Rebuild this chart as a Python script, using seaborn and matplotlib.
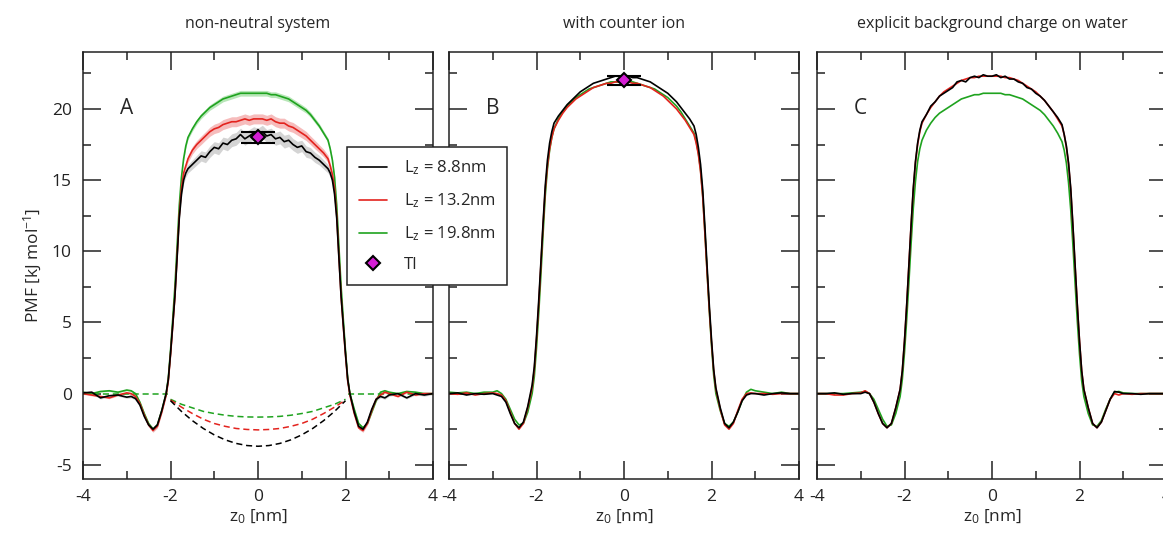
import numpy as np
import seaborn as sns
import matplotlib.pyplot as plt
from matplotlib.lines import Line2D
from matplotlib.ticker import MultipleLocator

sns.set_style("ticks")
plt.rcParams['font.family'] = ['Open Sans', 'DejaVu Sans']
plt.rcParams['mathtext.fontset'] = 'custom'
plt.rcParams['mathtext.rm'] = 'Open Sans'
plt.rcParams['mathtext.it'] = 'Open Sans:italic'
plt.rcParams['axes.unicode_minus'] = False

# z grid (nm)
z = [-4.0, -3.8, -3.6, -3.4, -3.2, -3.0,
     -2.9, -2.8, -2.7, -2.6, -2.5, -2.4, -2.3, -2.2, -2.1,
     -2.05, -2.0, -1.95, -1.9, -1.85, -1.8, -1.75, -1.7, -1.65, -1.6,
     -1.5, -1.4, -1.3, -1.2, -1.1, -1.0, -0.9, -0.8, -0.7, -0.6, -0.5, -0.4, -0.3, -0.2, -0.1,
     0.0,
     0.1, 0.2, 0.3, 0.4, 0.5, 0.6, 0.7, 0.8, 0.9, 1.0, 1.1, 1.2, 1.3, 1.4, 1.5,
     1.6, 1.65, 1.7, 1.75, 1.8, 1.85, 1.9, 1.95, 2.0, 2.05,
     2.1, 2.2, 2.3, 2.4, 2.5, 2.6, 2.7, 2.8, 2.9,
     3.0, 3.2, 3.4, 3.6, 3.8, 4.0]

# panel A: non-neutral system
a_88 = [0.05, 0.1, -0.3, -0.15, -0.1, -0.25,
        -0.2, -0.35, -0.8, -1.6, -2.2, -2.5, -2.2, -1.2, 0.0,
        1.0, 2.8, 4.8, 6.8, 9.5, 12.3, 14.0, 15.0, 15.5, 15.8,
        16.1, 16.4, 16.7, 16.6, 17.0, 17.3, 17.2, 17.6, 17.5, 17.8, 17.9, 18.2, 17.9, 18.1, 18.3,
        18.2,
        18.4, 18.1, 18.2, 17.9, 18.0, 17.7, 17.8, 17.5, 17.3, 17.4, 17.0, 16.9, 16.6, 16.4, 16.1,
        15.8, 15.5, 15.0, 14.0, 12.3, 9.5, 6.8, 4.8, 2.8, 1.0,
        0.0, -1.3, -2.3, -2.5, -2.0, -1.1, -0.4, -0.2, -0.3,
        -0.1, 0.0, -0.3, 0.0, -0.1, 0.0]
a_132 = [0.0, -0.1, -0.2, -0.3, -0.1, 0.05,
         0.0, -0.2, -0.7, -1.5, -2.2, -2.6, -2.3, -1.3, -0.1,
         0.9, 2.7, 4.7, 6.8, 9.6, 12.5, 14.4, 15.5, 16.0, 16.5,
         17.1, 17.5, 17.8, 18.1, 18.4, 18.6, 18.7, 18.9, 19.0, 19.1, 19.1, 19.2, 19.3, 19.2, 19.3,
         19.3,
         19.3, 19.2, 19.3, 19.1, 19.0, 19.0, 18.8, 18.7, 18.5, 18.3, 18.1, 17.8, 17.5, 17.2, 16.9,
         16.5, 16.0, 15.4, 14.4, 12.5, 9.6, 6.8, 4.7, 2.7, 0.9,
         -0.1, -1.4, -2.4, -2.6, -2.1, -1.2, -0.4, -0.1, 0.1,
         0.0, -0.2, 0.1, -0.1, 0.0, 0.0]
a_198 = [0.1, 0.0, 0.15, 0.2, 0.1, 0.25,
         0.2, 0.0, -0.6, -1.4, -2.1, -2.5, -2.2, -1.2, 0.0,
         1.1, 3.0, 5.2, 7.5, 10.3, 13.2, 15.2, 16.5, 17.4, 18.0,
         18.6, 19.1, 19.5, 19.8, 20.1, 20.3, 20.5, 20.7, 20.8, 20.9, 21.0, 21.1, 21.1, 21.1, 21.1,
         21.1,
         21.1, 21.1, 21.0, 21.0, 20.9, 20.8, 20.7, 20.5, 20.3, 20.1, 19.9, 19.6, 19.2, 18.8, 18.3,
         17.8, 17.2, 16.4, 15.2, 13.2, 10.3, 7.5, 5.2, 3.0, 1.1,
         0.0, -1.1, -2.1, -2.4, -2.1, -1.3, -0.5, 0.1, 0.2,
         0.1, 0.0, 0.15, 0.1, 0.0, 0.0]

# error band half widths (panel A)
a_88_err = [0.08, 0.08, 0.08, 0.08, 0.08, 0.08,
            0.1, 0.1, 0.12, 0.15, 0.15, 0.15, 0.15, 0.15, 0.15,
            0.2, 0.2, 0.2, 0.2, 0.2, 0.2, 0.22, 0.25, 0.28, 0.3,
            0.32, 0.34, 0.36, 0.38, 0.4, 0.4, 0.42, 0.42, 0.44, 0.45, 0.45, 0.45, 0.45, 0.45, 0.45,
            0.45,
            0.45, 0.45, 0.45, 0.45, 0.45, 0.45, 0.44, 0.42, 0.42, 0.4, 0.4, 0.38, 0.36, 0.34, 0.32,
            0.3, 0.28, 0.25, 0.22, 0.2, 0.2, 0.2, 0.2, 0.2, 0.2,
            0.15, 0.15, 0.15, 0.15, 0.15, 0.15, 0.12, 0.1, 0.1,
            0.08, 0.08, 0.08, 0.08, 0.08, 0.08]
a_132_err = [0.06, 0.06, 0.06, 0.06, 0.06, 0.06,
             0.08, 0.08, 0.1, 0.12, 0.12, 0.12, 0.12, 0.12, 0.12,
             0.15, 0.15, 0.15, 0.15, 0.15, 0.15, 0.18, 0.2, 0.22, 0.25,
             0.27, 0.28, 0.3, 0.3, 0.32, 0.33, 0.34, 0.35, 0.35, 0.35, 0.35, 0.35, 0.35, 0.35, 0.35,
             0.35,
             0.35, 0.35, 0.35, 0.35, 0.35, 0.35, 0.35, 0.35, 0.34, 0.33, 0.32, 0.3, 0.3, 0.28, 0.27,
             0.25, 0.22, 0.2, 0.18, 0.15, 0.15, 0.15, 0.15, 0.15, 0.15,
             0.12, 0.12, 0.12, 0.12, 0.12, 0.12, 0.1, 0.08, 0.08,
             0.06, 0.06, 0.06, 0.06, 0.06, 0.06]
a_198_err = [0.05, 0.05, 0.05, 0.05, 0.05, 0.05,
             0.06, 0.06, 0.07, 0.08, 0.08, 0.08, 0.08, 0.08, 0.08,
             0.1, 0.1, 0.1, 0.1, 0.1, 0.1, 0.12, 0.13, 0.14, 0.15,
             0.16, 0.17, 0.18, 0.18, 0.19, 0.2, 0.2, 0.2, 0.2, 0.2, 0.2, 0.2, 0.2, 0.2, 0.2,
             0.2,
             0.2, 0.2, 0.2, 0.2, 0.2, 0.2, 0.2, 0.2, 0.2, 0.2, 0.19, 0.18, 0.18, 0.17, 0.16,
             0.15, 0.14, 0.13, 0.12, 0.1, 0.1, 0.1, 0.1, 0.1, 0.1,
             0.08, 0.08, 0.08, 0.08, 0.08, 0.08, 0.07, 0.06, 0.06,
             0.05, 0.05, 0.05, 0.05, 0.05, 0.05]

# correction terms (dashed) in panel A
dash_z = [-2.0, -1.75, -1.5, -1.25, -1.0, -0.75, -0.5, -0.25, 0.0,
          0.25, 0.5, 0.75, 1.0, 1.25, 1.5, 1.75, 2.0]
dash_88 = [-0.5, -1.25, -1.9, -2.45, -2.9, -3.25, -3.5, -3.65, -3.7,
           -3.65, -3.5, -3.25, -2.9, -2.45, -1.9, -1.25, -0.5]
dash_132 = [-0.45, -0.95, -1.4, -1.8, -2.1, -2.3, -2.45, -2.52, -2.55,
            -2.52, -2.45, -2.3, -2.1, -1.8, -1.4, -0.95, -0.45]
dash_198 = [-0.4, -0.75, -1.0, -1.25, -1.4, -1.52, -1.6, -1.64, -1.65,
            -1.64, -1.6, -1.52, -1.4, -1.25, -1.0, -0.75, -0.4]
outer_left_z = [-4.0, -2.05]
outer_right_z = [2.05, 4.0]
outer_y = [0.0, 0.0]

# panel B: with counter ion
b_88 = [0.0, 0.05, -0.1, 0.0, -0.05, 0.0,
        -0.1, -0.2, -0.6, -1.4, -2.1, -2.4, -2.0, -0.9, 0.6,
        1.9, 4.0, 6.5, 9.2, 12.0, 14.6, 16.4, 17.6, 18.4, 19.0,
        19.5, 19.9, 20.3, 20.6, 20.9, 21.2, 21.4, 21.6, 21.8, 21.9, 22.0, 22.1, 22.2, 22.3, 22.3,
        22.3,
        22.3, 22.2, 22.2, 22.1, 22.0, 21.9, 21.7, 21.5, 21.3, 21.1, 20.8, 20.5, 20.1, 19.7, 19.3,
        18.8, 18.2, 17.3, 16.1, 14.3, 11.7, 8.9, 6.2, 3.8, 1.7,
        0.4, -1.0, -2.1, -2.4, -2.0, -1.3, -0.5, -0.1, 0.0,
        0.0, -0.1, 0.0, 0.05, 0.0, 0.0]
b_132 = [0.0, -0.05, 0.05, -0.1, 0.0, 0.05,
         0.0, -0.1, -0.5, -1.3, -2.1, -2.5, -2.1, -1.0, 0.4,
         1.7, 3.8, 6.2, 9.0, 11.8, 14.3, 16.0, 17.2, 18.0, 18.6,
         19.2, 19.7, 20.1, 20.4, 20.7, 20.9, 21.1, 21.3, 21.5, 21.6, 21.7, 21.8, 21.8, 21.9, 21.9,
         21.9,
         21.9, 21.8, 21.8, 21.7, 21.6, 21.5, 21.3, 21.1, 20.9, 20.6, 20.3, 20.0, 19.6, 19.2, 18.7,
         18.2, 17.6, 16.8, 15.6, 13.8, 11.2, 8.5, 5.9, 3.6, 1.6,
         0.3, -1.1, -2.2, -2.5, -2.1, -1.2, -0.4, 0.0, 0.05,
         0.0, 0.0, -0.05, 0.0, 0.0, 0.0]
b_198 = [0.1, 0.05, 0.1, 0.0, 0.1, 0.1,
         0.2, 0.0, -0.4, -1.1, -1.8, -2.2, -2.1, -1.3, 0.0,
         1.2, 3.2, 5.6, 8.3, 11.2, 13.9, 15.8, 17.1, 18.0, 18.6,
         19.3, 19.8, 20.2, 20.5, 20.8, 21.0, 21.2, 21.4, 21.5, 21.6, 21.7, 21.8, 21.9, 21.9, 21.9,
         21.9,
         21.9, 21.9, 21.8, 21.7, 21.6, 21.5, 21.4, 21.2, 21.0, 20.8, 20.5, 20.2, 19.8, 19.3, 18.8,
         18.3, 17.7, 16.9, 15.7, 13.9, 11.3, 8.5, 5.8, 3.4, 1.3,
         0.0, -1.2, -2.1, -2.3, -2.0, -1.3, -0.5, 0.1, 0.3,
         0.2, 0.1, 0.0, 0.1, 0.0, 0.0]

# panel C: explicit background charge on water
c_88 = [0.0, 0.0, 0.05, -0.05, 0.0, 0.0,
        0.1, 0.0, -0.6, -1.4, -2.1, -2.4, -2.1, -1.0, 0.3,
        1.6, 3.7, 6.2, 9.0, 11.8, 14.4, 16.3, 17.6, 18.5, 19.1,
        19.6, 20.2, 20.5, 20.9, 21.1, 21.3, 21.5, 21.9, 22.0, 21.9, 22.2, 22.3, 22.2, 22.4, 22.3,
        22.3,
        22.4, 22.2, 22.3, 22.1, 22.1, 21.9, 21.8, 21.5, 21.4, 21.1, 20.9, 20.6, 20.2, 19.8, 19.4,
        18.9, 18.2, 17.4, 16.2, 14.4, 11.8, 9.0, 6.2, 3.7, 1.6,
        0.3, -1.0, -2.1, -2.4, -2.0, -1.2, -0.4, 0.15, 0.1,
        0.0, 0.0, -0.05, 0.0, 0.0, 0.0]
c_132 = [0.0, 0.0, -0.1, -0.1, 0.0, 0.05,
         0.2, 0.0, -0.6, -1.4, -2.1, -2.4, -2.1, -1.0, 0.3,
         1.6, 3.7, 6.2, 9.0, 11.8, 14.3, 16.2, 17.5, 18.4, 19.0,
         19.6, 20.1, 20.5, 20.9, 21.2, 21.4, 21.6, 21.8, 22.0, 22.1, 22.2, 22.2, 22.3, 22.3, 22.3,
         22.3,
         22.3, 22.3, 22.2, 22.2, 22.1, 22.0, 21.8, 21.6, 21.4, 21.2, 20.9, 20.6, 20.2, 19.8, 19.3,
         18.8, 18.2, 17.3, 16.1, 14.3, 11.7, 8.9, 6.2, 3.7, 1.6,
         0.3, -1.0, -2.1, -2.4, -2.0, -1.2, -0.4, 0.0, -0.1,
         0.0, -0.05, 0.0, 0.0, 0.0, 0.0]
c_198 = [0.0, 0.0, 0.0, 0.0, 0.05, 0.1,
         0.15, 0.0, -0.4, -1.1, -1.8, -2.3, -2.2, -1.4, -0.2,
         1.0, 2.9, 5.2, 7.8, 10.5, 13.0, 14.9, 16.3, 17.2, 17.8,
         18.5, 19.0, 19.4, 19.7, 19.9, 20.1, 20.3, 20.5, 20.7, 20.8, 20.9, 21.0, 21.0, 21.1, 21.1,
         21.1,
         21.1, 21.1, 21.0, 21.0, 20.9, 20.8, 20.7, 20.5, 20.3, 20.1, 19.9, 19.6, 19.2, 18.8, 18.3,
         17.7, 17.1, 16.2, 14.8, 12.9, 10.4, 7.7, 5.1, 2.8, 0.9,
         -0.2, -1.4, -2.2, -2.3, -1.9, -1.1, -0.4, 0.1, 0.15,
         0.05, 0.0, 0.0, 0.0, 0.0, 0.0]

# thermodynamic integration points
ti_a, ti_a_err = 18.0, 0.4
ti_b, ti_b_err = 22.0, 0.3

titles = ["non-neutral system", "with counter ion", "explicit background charge on water"]
letters = ["A", "B", "C"]
labels = [r"L$_\mathrm{z}$ = 8.8nm", r"L$_\mathrm{z}$ = 13.2nm", r"L$_\mathrm{z}$ = 19.8nm", "TI"]

BLACK, RED, GREEN, MAGENTA = "black", "#e3231e", "#1fa31f", "#d41ed4"

W, H = 1163, 536
fig = plt.figure(figsize=(W / 100, H / 100), dpi=100)
lefts = [83, 449, 817]
axes = [fig.add_axes([l / W, 1 - 479 / H, 350 / W, 427 / H]) for l in lefts]

panels = [(a_88, a_132, a_198), (b_88, b_132, b_198), (c_88, c_132, c_198)]

ax = axes[0]
ax.fill_between(z, np.array(a_198) - a_198_err, np.array(a_198) + a_198_err, color="#b8e6b8", lw=0)
ax.fill_between(z, np.array(a_132) - a_132_err, np.array(a_132) + a_132_err, color="#f6bcbc", lw=0)
ax.fill_between(z, np.array(a_88) - a_88_err, np.array(a_88) + a_88_err, color="#d4d4d4", lw=0)
for yv, c in [(dash_198, GREEN), (dash_132, RED), (dash_88, BLACK)]:
    ax.plot(dash_z, yv, color=c, lw=1.1, ls=(0, (4, 2.5)))
for oz in [outer_left_z, outer_right_z]:
    ax.plot(oz, outer_y, color=GREEN, lw=1.1, ls=(0, (4, 2.5)))

for i, ax in enumerate(axes):
    c88, c132, c198 = panels[i]
    sns.lineplot(x=z, y=c198, color=GREEN, lw=1.2, ax=ax, estimator=None, sort=False)
    sns.lineplot(x=z, y=c132, color=RED, lw=1.2, ax=ax, estimator=None, sort=False)
    sns.lineplot(x=z, y=c88, color=BLACK, lw=1.2, ax=ax, estimator=None, sort=False)

    ax.set_xlim(-4, 4)
    ax.set_ylim(-6, 24)
    ax.xaxis.set_major_locator(MultipleLocator(2))
    ax.xaxis.set_minor_locator(MultipleLocator(1))
    ax.yaxis.set_major_locator(MultipleLocator(5))
    ax.yaxis.set_minor_locator(MultipleLocator(2.5))
    ax.tick_params(which="both", direction="in", top=True, right=True, width=1.1,
                   labelsize=12.5, colors="#222222")
    ax.tick_params(which="major", length=13)
    ax.tick_params(which="minor", length=6)
    ax.tick_params(axis="x", pad=7)
    ax.tick_params(axis="y", pad=8)
    for s in ax.spines.values():
        s.set_linewidth(1.1)
        s.set_color("#222222")
    ax.set_xlabel(r"z$_0$ [nm]", fontsize=12.5, labelpad=2)
    ax.set_ylabel("")
    ax.set_title(titles[i], fontsize=11.5, pad=17)
    ax.text(-3.15, 20, letters[i], fontsize=15, va="center", ha="left")
    if i > 0:
        ax.tick_params(axis="y", labelleft=False)

axes[0].set_ylabel(r"PMF [kJ mol$^{-1}$]", fontsize=12.5, labelpad=6)

axes[0].errorbar([0], [ti_a], yerr=[ti_a_err], fmt="D", ms=7, mfc=MAGENTA, mec="black",
                 mew=1.5, ecolor="black", elinewidth=1.1, capsize=12, capthick=1.1, zorder=5)
axes[1].errorbar([0], [ti_b], yerr=[ti_b_err], fmt="D", ms=7, mfc=MAGENTA, mec="black",
                 mew=1.5, ecolor="black", elinewidth=1.1, capsize=12, capthick=1.1, zorder=5)

handles = [Line2D([], [], color=BLACK, lw=1.2),
           Line2D([], [], color=RED, lw=1.2),
           Line2D([], [], color=GREEN, lw=1.2),
           Line2D([], [], ls="none", marker="D", ms=7, mfc=MAGENTA, mec="black", mew=1.5)]
leg = fig.legend(handles, labels, loc="upper left", bbox_to_anchor=(347 / W, 1 - 147 / H),
                 borderaxespad=0, fontsize=12, frameon=True, fancybox=False, framealpha=1,
                 edgecolor="#222222", handlelength=1.7, handletextpad=1.0, labelspacing=0.85,
                 borderpad=0.7)
leg.get_frame().set_linewidth(1.1)

fig.savefig("out.png", dpi=100)
